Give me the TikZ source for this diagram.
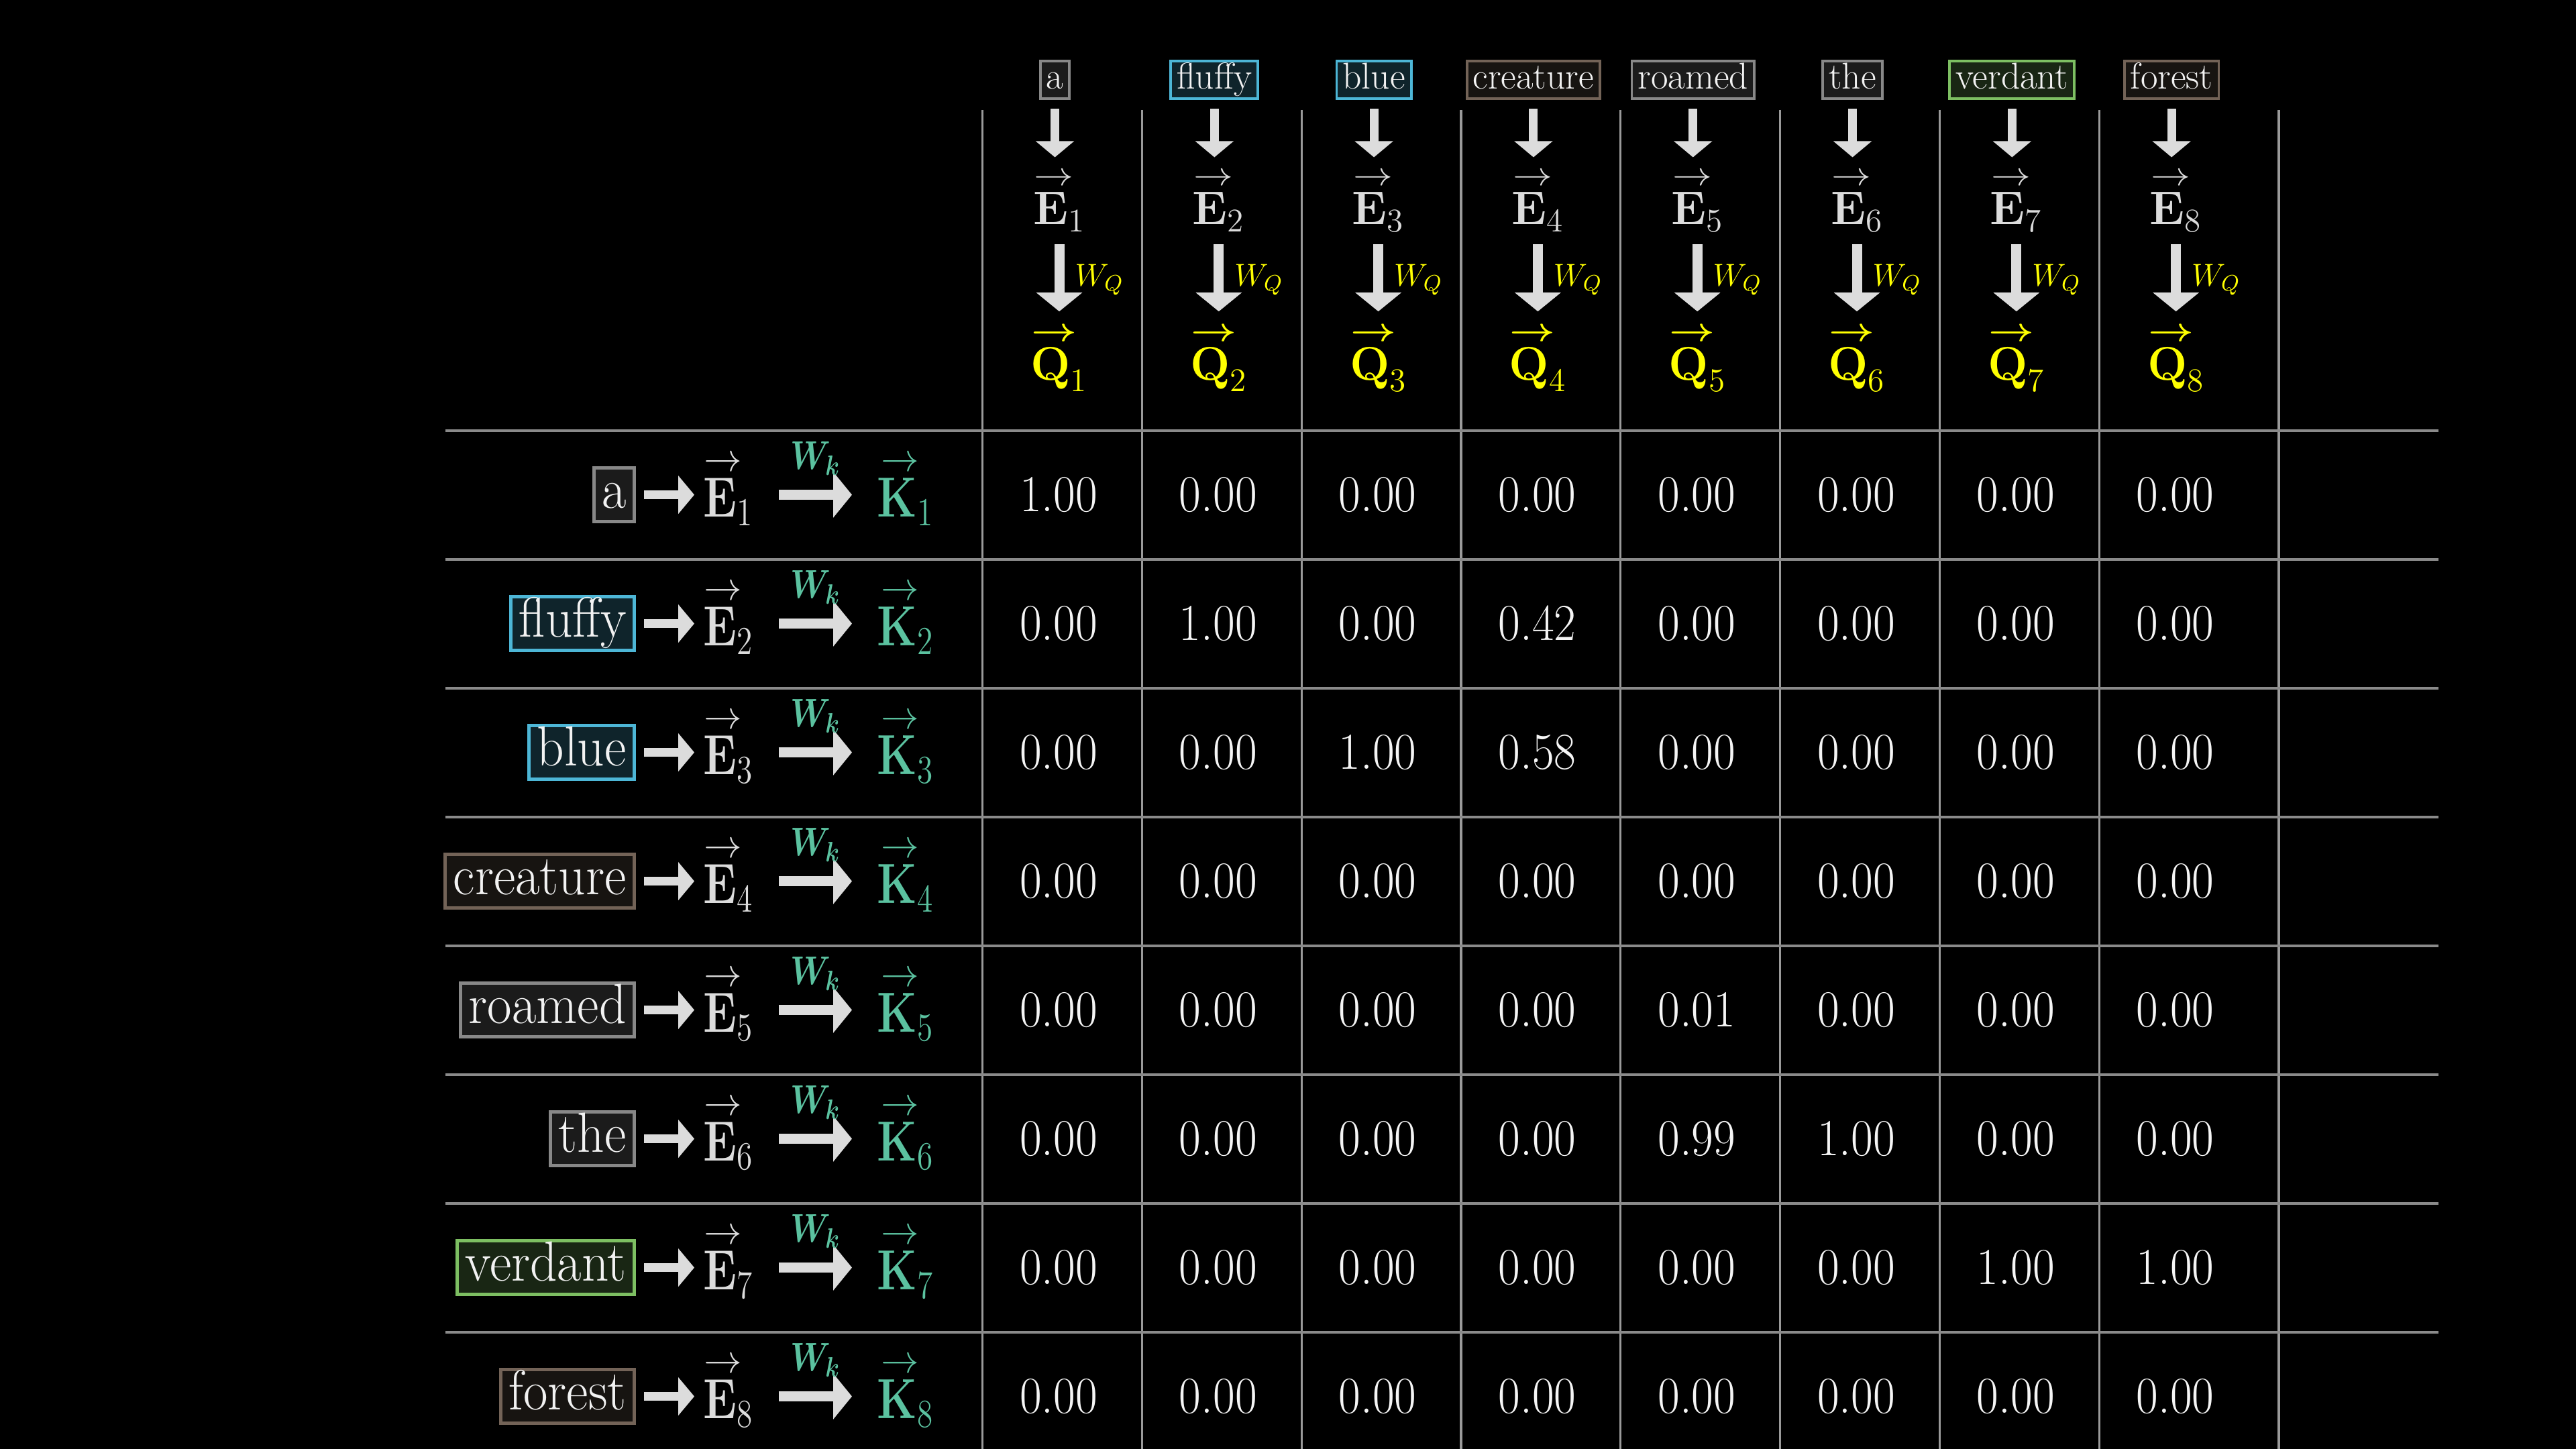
\RequirePackage{fix-cm}
\documentclass[tikz,border=0pt]{standalone}
\usepackage{amsmath}
\usepackage{bm}
\usetikzlibrary{arrows.meta}

\definecolor{egray}{HTML}{DCDCDC}
\definecolor{qyellow}{HTML}{FFFF00}
\definecolor{kteal}{HTML}{5BC2A0}
\definecolor{hline}{HTML}{8A8A8A}
\definecolor{vline}{HTML}{9A9A9A}
\definecolor{wgray}{HTML}{888888}
\definecolor{wblue}{HTML}{4DB6D6}
\definecolor{wbrown}{HTML}{736357}
\definecolor{wgreen}{HTML}{7DBF62}

% vector with a wide arrow close on top (the arrow takes no width)
\newcommand{\vecarr}[1]{\mathord{\vbox{\offinterlineskip\halign{\hfil##\hfil\cr
    \makebox[0pt]{\kern3pt\scalebox{1.2}[1]{$\scriptstyle\rightarrow$}}\cr\noalign{\kern3pt}$#1$\cr}}}}
\newcommand{\vecbold}[1]{\mathord{\vbox{\offinterlineskip\halign{\hfil##\hfil\cr
    \makebox[0pt]{\kern3pt\scalebox{1.2}[1]{$\scriptstyle\bm{\rightarrow}$}}\cr\noalign{\kern3pt}$#1$\cr}}}}

\tikzset{
  headword/.style={draw=#1, fill=#1!20!black, text=white!95!black, line width=1.1pt,
    font=\fontsize{15.8}{18}\selectfont, text height=10.9pt, text depth=3.3pt,
    inner xsep=0.09cm, inner ysep=0.03cm},
  rowword/.style={draw=#1, fill=#1!20!black, text=white!95!black, line width=1.4pt,
    font=\fontsize{24}{28}\selectfont, text height=16.6pt, text depth=5pt,
    inner xsep=0.128cm, inner ysep=0.02cm, xscale=0.94},
  headvec/.style={text=egray, inner sep=0, font=\fontsize{20}{24}\selectfont},
  rowvec/.style={text=egray, inner sep=0, xscale=0.8, font=\fontsize{24}{28}\selectfont},
  num/.style={text=white!96!black, inner sep=0, xscale=0.92, font=\fontsize{22}{26}\selectfont},
  smallarrow/.style={draw=egray, line width=0.13cm, -{Triangle[width=0.56cm,length=0.24cm]}},
  bigarrow/.style={draw=egray, line width=0.15cm, -{Triangle[width=0.67cm,length=0.28cm]}},
}

\begin{document}
\begin{tikzpicture}[x=1cm,y=1cm]
    \fill[black] (0,0) rectangle (38.4,21.6);
    \useasboundingbox (0,0) rectangle (38.4,21.6);

    % grid
    \foreach \c in {0,...,7}
        \draw[vline, line width=0.9pt] ({14.645+2.378*\c},19.96) -- ({14.645+2.378*\c},0);
    \draw[vline, line width=0.9pt] (33.97,19.96) -- (33.97,0);
    \foreach \r in {0,...,7}
        \draw[hline, line width=1.1pt] (6.64,{15.184-1.92*\r}) -- (36.35,{15.184-1.92*\r});

    % queries along the top
    \foreach \w/\col [count=\c] in {a/wgray,fluffy/wblue,blue/wblue,creature/wbrown,
                                     roamed/wgray,the/wgray,verdant/wgreen,forest/wbrown}{
        \node[headword=\col] (cw\c) at ({15.725+2.378*(\c-1)},20.41) {\w};
        \node[headvec, anchor=base] (ce\c) at ({15.79+2.378*(\c-1)},18.25) {$\vecarr{\mathbf{E}}_{\c}$};
        \node[headvec, text=qyellow, anchor=base] (cq\c) at ({15.79+2.378*(\c-1)},15.93) {$\vecbold{\mathbf{Q}}_{\c}$};
        \draw[smallarrow, shorten <=0.135cm, shorten >=0.23cm] (cw\c.south) -- (cw\c.south |- ce\c.north);
        \draw[bigarrow, shorten <=0.18cm, shorten >=0.24cm] (ce\c.south) -- (cq\c.north)
            node[midway, right=0.16cm, inner sep=0, text=qyellow, font=\fontsize{13.5}{15}\selectfont] {$W_Q$};
    }

    % keys down the side
    \foreach \w/\col [count=\r] in {a/wgray,fluffy/wblue,blue/wblue,creature/wbrown,
                                     roamed/wgray,the/wgray,verdant/wgreen,forest/wbrown}{
        \node[rowword=\col, anchor=east] (rw\r) at (9.48,{14.224-1.92*(\r-1)}) {\w};
        \node[rowvec, anchor=base west] (re\r) at (10.48,{14.224-1.92*(\r-1)-0.33}) {$\vecarr{\mathbf{E}}_{\r}$};
        \node[rowvec, text=kteal, anchor=base west] (rk\r) at (13.07,{14.224-1.92*(\r-1)-0.33}) {$\vecarr{\mathbf{K}}_{\r}$};
        \draw[smallarrow, shorten <=0.12cm, shorten >=0.13cm] (rw\r.east) -- (rw\r.east -| re\r.west);
        \draw[bigarrow, shorten <=0.37cm, shorten >=0.37cm] (re\r.east |- rw\r.east) -- (rw\r.east -| rk\r.west)
            node[midway, above=0.22cm, inner sep=0, text=kteal, xscale=0.8,
                 font=\fontsize{17}{19}\selectfont] {$\bm{W}_{\bm{k}}$};
    }

    % attention values
    \foreach \vals [count=\r] in {{1.00,0.00,0.00,0.00,0.00,0.00,0.00,0.00},
                                  {0.00,1.00,0.00,0.42,0.00,0.00,0.00,0.00},
                                  {0.00,0.00,1.00,0.58,0.00,0.00,0.00,0.00},
                                  {0.00,0.00,0.00,0.00,0.00,0.00,0.00,0.00},
                                  {0.00,0.00,0.00,0.00,0.01,0.00,0.00,0.00},
                                  {0.00,0.00,0.00,0.00,0.99,1.00,0.00,0.00},
                                  {0.00,0.00,0.00,0.00,0.00,0.00,1.00,1.00},
                                  {0.00,0.00,0.00,0.00,0.00,0.00,0.00,0.00}}{
        \foreach \v [count=\c] in \vals
            \node[num] (v\r-\c) at ({15.78+2.378*(\c-1)},{14.224-1.92*(\r-1)}) {\v};
    }
\end{tikzpicture}
\end{document}
